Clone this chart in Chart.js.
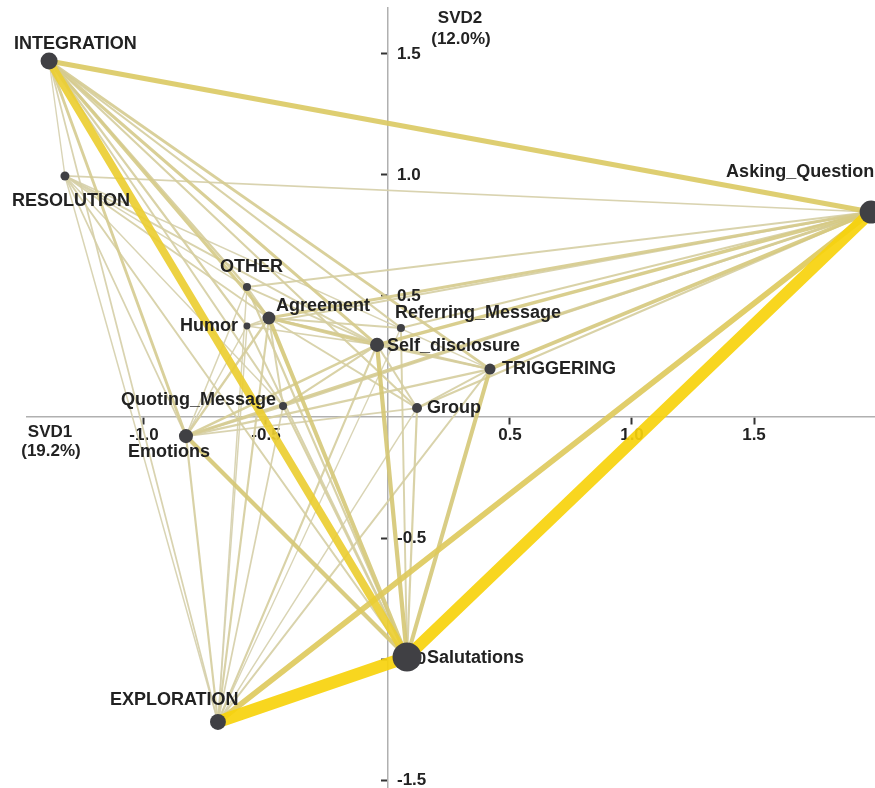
<!DOCTYPE html>
<html>
<head>
<meta charset="utf-8">
<title>ENA network</title>
<script src="https://cdn.jsdelivr.net/npm/chart.js@4.4.1/dist/chart.umd.min.js"></script>
<style>
  html, body { margin: 0; padding: 0; background: #fff; overflow: hidden; }
  #wrap { width: 875px; height: 788px; position: relative; }
  canvas { display: block; }
</style>
</head>
<body>
<div id="wrap"><canvas id="ena-chart"></canvas></div>
<script>
// --- data ---
const codeNames = ['INTEGRATION', 'RESOLUTION', 'OTHER', 'Humor', 'Agreement', 'Referring_Message',
    'Self_disclosure', 'TRIGGERING', 'Quoting_Message', 'Group', 'Emotions', 'Asking_Questions',
    'Salutations', 'EXPLORATION'];
const svd1 = [-1.389, -1.324, -0.578, -0.578, -0.488, 0.053, -0.045, 0.418, -0.430, 0.119, -0.828, 1.980, 0.078, -0.697];
const svd2 = [1.471, 0.996, 0.537, 0.376, 0.409, 0.368, 0.298, 0.198, 0.045, 0.037, -0.079, 0.847, -0.992, -1.260];
// relative code frequency (node size)
const codeFreq = [0.48, 0.13, 0.09, 0.04, 0.30, 0.09, 0.35, 0.22, 0.09, 0.17, 0.35, 0.74, 1.0, 0.43];

// co-occurrence edges: [from, to, weight]
const edges = [
    [13, 12, 1.0], [12, 11, 0.95], [0, 12, 0.62], [13, 11, 0.42], [0, 11, 0.38],
    [10, 12, 0.30], [7, 12, 0.28], [6, 12, 0.30], [4, 12, 0.28], [7, 11, 0.26],
    [6, 11, 0.24], [4, 11, 0.20], [10, 11, 0.18], [0, 4, 0.22], [0, 6, 0.20],
    [0, 10, 0.18], [0, 7, 0.18], [0, 2, 0.14], [0, 3, 0.12], [0, 5, 0.12],
    [0, 8, 0.10], [0, 9, 0.12], [0, 13, 0.08], [0, 1, 0.05], [1, 11, 0.08],
    [1, 4, 0.10], [1, 6, 0.10], [1, 10, 0.08], [1, 12, 0.10], [1, 13, 0.06],
    [1, 2, 0.06], [1, 8, 0.06], [1, 7, 0.06], [2, 11, 0.10], [2, 12, 0.12],
    [2, 6, 0.10], [2, 4, 0.10], [2, 13, 0.06], [3, 11, 0.10], [3, 12, 0.10],
    [3, 4, 0.08], [3, 13, 0.06], [3, 6, 0.08], [4, 6, 0.20], [4, 10, 0.14],
    [4, 7, 0.14], [4, 13, 0.12], [4, 9, 0.10], [4, 8, 0.10], [5, 11, 0.12],
    [5, 12, 0.10], [5, 4, 0.10], [5, 13, 0.05], [6, 10, 0.16], [6, 7, 0.12],
    [6, 9, 0.10], [6, 8, 0.12], [6, 13, 0.12], [7, 10, 0.12], [7, 9, 0.10],
    [7, 13, 0.10], [8, 11, 0.12], [8, 12, 0.12], [8, 10, 0.12], [8, 13, 0.08],
    [9, 11, 0.12], [9, 12, 0.12], [9, 13, 0.06], [9, 10, 0.08], [10, 13, 0.12],
    [2, 10, 0.06], [3, 10, 0.06]
];

const xTickValues = [-1.0, -0.5, 0.5, 1.0, 1.5];
const yTickValues = [1.5, 1.0, 0.5, -0.5, -1.0, -1.5];
const xAxisTitle = ['SVD1', '(19.2%)'];
const yAxisTitle = ['SVD2', '(12.0%)'];

// --- layout: label offsets from node centre (px) ---
const labelPlace = {
    INTEGRATION: [-35, -17, 'left'],
    RESOLUTION: [-53, 25, 'left'],
    OTHER: [-27, -20, 'left'],
    Humor: [-9, 0, 'right'],
    Agreement: [7, -12, 'left'],
    Referring_Message: [-6, -15, 'left'],
    Self_disclosure: [10, 1, 'left'],
    TRIGGERING: [12, 0, 'left'],
    Quoting_Message: [-7, -6, 'right'],
    Group: [10, 0, 'left'],
    Emotions: [-58, 16, 'left'],
    Asking_Questions: [-145, -40, 'left'],
    Salutations: [20, 1, 'left'],
    EXPLORATION: [-108, -22, 'left']
};

const FONT = '"Liberation Sans", Arial, Helvetica, sans-serif';

function mix(a, b, t) {
    return a.map((v, k) => Math.round(v + (b[k] - v) * t));
}

function edgeColor(w) {
    const light = [214, 210, 188], mid = [214, 200, 118], heavy = [247, 210, 12];
    const c = w < 0.3 ? mix(light, mid, w / 0.3) : mix(mid, heavy, Math.min(1, (w - 0.3) / 0.5));
    return `rgba(${c[0]},${c[1]},${c[2]},0.92)`;
}

const edgeSets = edges.map(([a, b, w]) => ({
    data: [{x: svd1[a], y: svd2[a]}, {x: svd1[b], y: svd2[b]}],
    showLine: true,
    borderColor: edgeColor(w),
    borderWidth: 0.8 + 11.5 * w,
    borderCapStyle: 'round',
    pointRadius: 0,
    order: 10 + Math.round((1 - w) * 100)
}));

const nodeSet = {
    data: codeNames.map((n, i) => ({x: svd1[i], y: svd2[i]})),
    pointRadius: codeFreq.map(f => 3 + 11.5 * f),
    pointBackgroundColor: '#404044',
    pointBorderWidth: 0,
    showLine: false,
    clip: false,
    order: 0
};

const enaLabels = {
    id: 'enaLabels',
    // y tick labels sit under the nodes but over the edges
    beforeDatasetDraw(chart, args) {
        if (args.index !== 0) return;
        const {ctx, scales: {x, y}} = chart;
        const x0 = x.getPixelForValue(0);
        ctx.save();
        ctx.fillStyle = '#222';
        ctx.textBaseline = 'middle';
        ctx.textAlign = 'left';
        ctx.font = `bold 17px ${FONT}`;
        yTickValues.forEach(v => ctx.fillText(v.toFixed(1), x0 + 9, y.getPixelForValue(v)));
        ctx.restore();
    },
    afterDatasetsDraw(chart) {
        const {ctx, scales: {x, y}} = chart;
        const x0 = x.getPixelForValue(0), y0 = y.getPixelForValue(0);
        ctx.save();
        ctx.fillStyle = '#222';
        ctx.textBaseline = 'middle';

        ctx.font = `bold 18px ${FONT}`;
        codeNames.forEach((name, i) => {
            const [dx, dy, align] = labelPlace[name];
            ctx.textAlign = align;
            ctx.fillText(name, x.getPixelForValue(svd1[i]) + dx, y.getPixelForValue(svd2[i]) + dy);
        });

        ctx.font = `bold 17px ${FONT}`;
        ctx.textAlign = 'center';
        ctx.fillText(yAxisTitle[0], x0 + 72, 18);
        ctx.fillText(yAxisTitle[1], x0 + 73, 39);
        ctx.fillText(xAxisTitle[0], 50, y0 + 15);
        ctx.fillText(xAxisTitle[1], 51, y0 + 34);
        ctx.restore();
    }
};

new Chart(document.getElementById('ena-chart').getContext('2d'), {
    type: 'scatter',
    data: { datasets: [nodeSet, ...edgeSets] },
    options: {
        responsive: true,
        maintainAspectRatio: false,
        animation: false,
        events: [],
        layout: { autoPadding: false, padding: { left: 27, top: 8, right: 0, bottom: 0 } },
        plugins: { legend: { display: false }, tooltip: { enabled: false } },
        scales: {
            x: {
                type: 'linear',
                position: { y: 0 },
                z: 1,
                min: -1.4795,
                max: 1.9959,
                afterBuildTicks: s => { s.ticks = xTickValues.map(v => ({value: v})); },
                grid: { drawOnChartArea: false, drawTicks: true, tickLength: 7, tickColor: '#333', tickWidth: 2 },
                border: { display: true, color: '#b0b0b0', width: 1.5 },
                ticks: {
                    autoSkip: false, maxRotation: 0, padding: 1, color: '#222',
                    font: { family: FONT, size: 17, weight: 'bold' },
                    callback: v => Number(v).toFixed(1)
                }
            },
            y: {
                type: 'linear',
                position: { x: 0 },
                min: -1.533,
                max: 1.690,
                afterBuildTicks: s => { s.ticks = yTickValues.map(v => ({value: v})); },
                grid: { drawOnChartArea: false, drawTicks: true, tickLength: 6, tickColor: '#333', tickWidth: 2 },
                border: { display: true, color: '#b0b0b0', width: 1.5 },
                ticks: { display: false }
            }
        }
    },
    plugins: [enaLabels]
});
</script>
</body>
</html>
